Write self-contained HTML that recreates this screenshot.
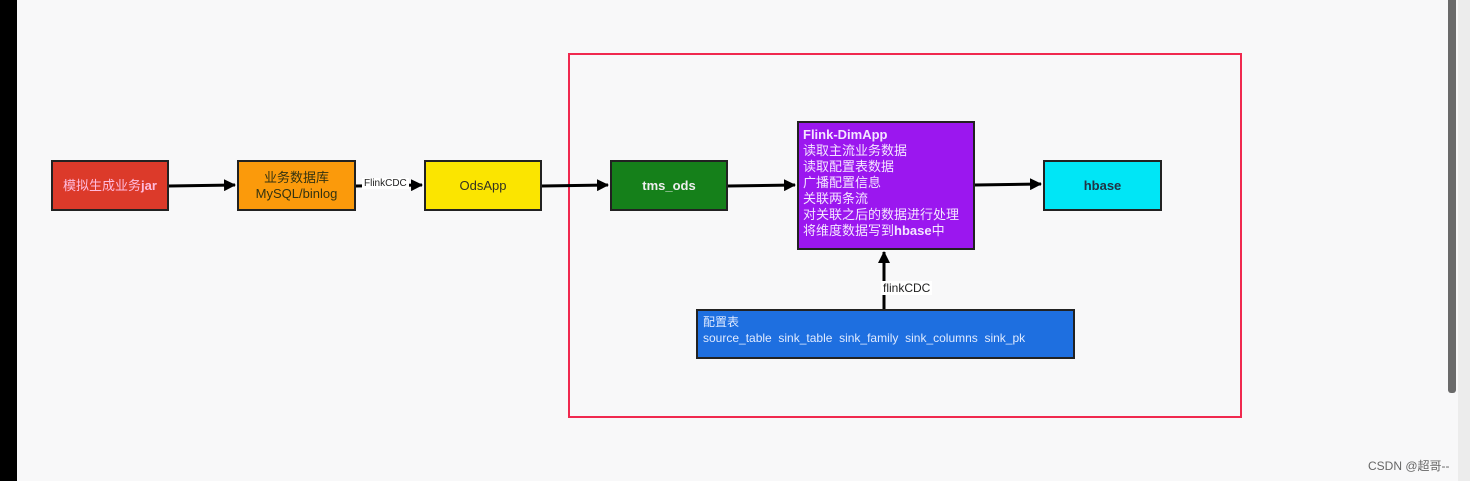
<!DOCTYPE html>
<html><head><meta charset="utf-8"><style>
body{margin:0;width:1470px;height:481px;overflow:hidden;background:#f8f8f9;font-family:"Liberation Sans","Noto Sans CJK SC",sans-serif;position:relative}
.b{position:absolute;border:2px solid #222;box-sizing:border-box;display:flex;align-items:center;justify-content:center;text-align:center;font-size:13px;line-height:16px}
.l{position:absolute;font-size:11px;background:#fff;color:#222}
</style></head><body>
<div style="position:absolute;left:0;top:0;width:17px;height:481px;background:#000"></div>
<div style="position:absolute;left:1458px;top:0;width:12px;height:481px;background:#ececec"></div>
<div style="position:absolute;left:1448px;top:0;width:8px;height:393px;background:#6a6a6a;border-radius:0 0 3px 3px"></div>
<div style="position:absolute;left:568px;top:53px;width:674px;height:365px;border:2px solid #f0294f;box-sizing:border-box"></div>
<div class="b" style="left:51px;top:160px;width:118px;height:51px;background:#dc3a2a;color:#fbd">模拟生成业务<b>jar</b></div>
<div class="b" style="left:237px;top:160px;width:119px;height:51px;background:#fb9a0b;color:#331">业务数据库<br>MySQL/binlog</div>
<div class="b" style="left:424px;top:160px;width:118px;height:51px;background:#fbe500;color:#332">OdsApp</div>
<div class="b" style="left:610px;top:160px;width:118px;height:51px;background:#15801a;color:#eee;font-weight:bold">tms_ods</div>
<div class="b" style="left:797px;top:121px;width:178px;height:129px;background:#9b17ef;color:#f4e6ff;display:block;text-align:left;padding:4px 4px;font-size:13px"><b>Flink-DimApp</b><br>读取主流业务数据<br>读取配置表数据<br>广播配置信息<br>关联两条流<br>对关联之后的数据进行处理<br>将维度数据写到<b>hbase</b>中</div>
<div class="b" style="left:1043px;top:160px;width:119px;height:51px;background:#00e6f6;color:#234;font-weight:bold">hbase</div>
<div class="b" style="left:696px;top:309px;width:379px;height:50px;background:#1e6fe0;color:#dfeaff;display:block;text-align:left;padding:3px 5px;font-size:12px;line-height:16px">配置表<br>source_table&nbsp; sink_table&nbsp; sink_family&nbsp; sink_columns&nbsp; sink_pk</div>
<svg width="1470" height="481" style="position:absolute;left:0;top:0">
<defs><marker id="a" markerWidth="12" markerHeight="12" refX="11" refY="6" orient="auto" markerUnits="userSpaceOnUse"><path d="M0,0L12,6L0,12z" fill="#000"/></marker></defs>
<g stroke="#000" stroke-width="3" fill="none">
<path d="M169 186L235 185" marker-end="url(#a)"/>
<path d="M356 186L422 185" marker-end="url(#a)"/>
<path d="M542 186L608 185" marker-end="url(#a)"/>
<path d="M728 186L795 185" marker-end="url(#a)"/>
<path d="M975 185L1041 184" marker-end="url(#a)"/>
<path d="M884 309L884 252" marker-end="url(#a)"/>
</g></svg>
<div class="l" style="left:362px;top:178px;font-size:10px;padding:0 2px">FlinkCDC</div>
<div class="l" style="left:881px;top:281px;font-size:12px;padding:0 2px">flinkCDC</div>
<div style="position:absolute;left:1368px;top:457px;font-size:12px;color:#666">CSDN @超哥--</div>
</body></html>
